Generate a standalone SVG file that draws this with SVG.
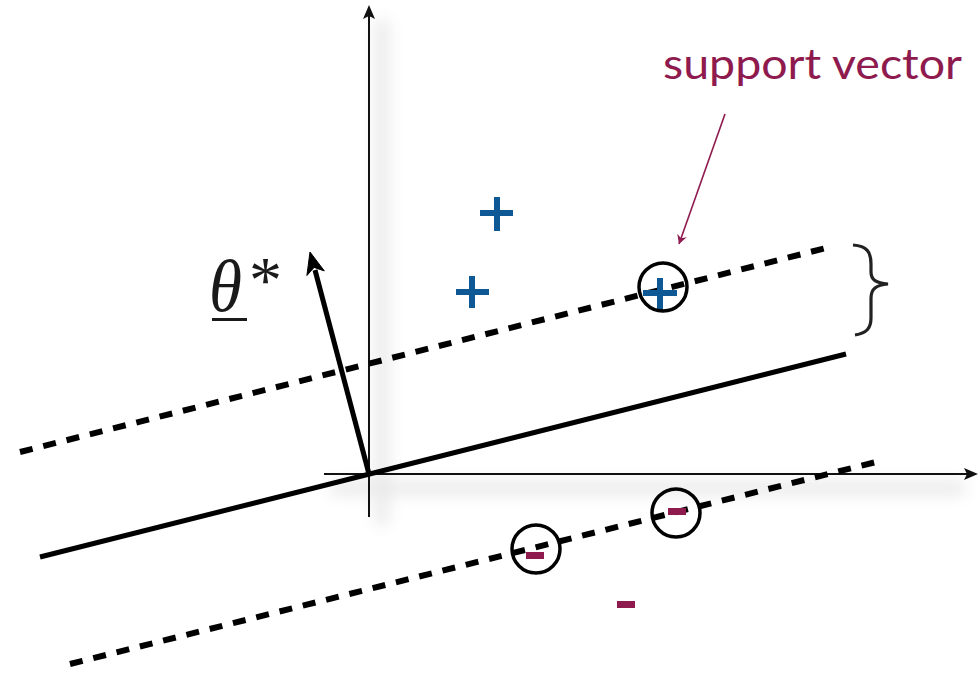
<svg xmlns="http://www.w3.org/2000/svg" width="978" height="673" viewBox="0 0 978 673">
<style>
.axis{stroke:#111;stroke-width:2;fill:none}
.dash{stroke:#000;stroke-width:6;stroke-dasharray:13 11;fill:none}
.solid{stroke:#000;stroke-width:5;fill:none}
.sv{stroke:#000;stroke-width:3.5;fill:none}
.plus{fill:#0F5896}
.minus{fill:#8E1A4E}
.lbl{font-family:"Lato","Open Sans","Liberation Sans",sans-serif;fill:#8E1A4E}
.math{font-family:"Liberation Serif","DejaVu Serif",serif;fill:#1a1a1a}
</style>
<defs>
<filter id="blur" x="-50%" y="-50%" width="200%" height="200%"><feGaussianBlur stdDeviation="8"/></filter>
<marker id="svArrow" markerWidth="12" markerHeight="12" refX="10" refY="6" orient="auto" markerUnits="userSpaceOnUse">
<path d="M1,1 L10,6 L1,11 L4,6 Z" fill="#8E1A4E"/>
</marker>
</defs>
<rect width="978" height="673" fill="#fff"/>
<g id="shadow" opacity="0.14" filter="url(#blur)">
<line x1="382" y1="20" x2="382" y2="525" stroke="#555" stroke-width="12"/>
<line x1="330" y1="488" x2="965" y2="488" stroke="#555" stroke-width="12"/>
</g>
<g id="axes">
<line class="axis" x1="369" y1="14" x2="369" y2="517"/>
<path d="M369,5 L363,19 L369,16 L375,19 Z" fill="#111"/>
<line class="axis" x1="324" y1="474" x2="968" y2="474"/>
<path d="M978,474 L964,468 L967,474 L964,480 Z" fill="#111"/>
</g>
<g id="connectors">
<line class="dash" x1="20" y1="452" x2="826" y2="248"/>
<line class="solid" x1="40" y1="557" x2="846" y2="354"/>
<line class="dash" x1="70" y1="664" x2="876" y2="462"/>
<line x1="369" y1="474" x2="315" y2="270" stroke="#000" stroke-width="5"/>
<path d="M310,252 L324.3,270.9 L314.1,267.4 L306.9,275.5 Z" fill="#000" stroke="#000" stroke-width="1"/>
<line x1="725" y1="114" x2="679" y2="244" stroke="#8E1A4E" stroke-width="1.6" marker-end="url(#svArrow)"/>
</g>
<g id="theta">
<text class="math" x="209" y="311" font-size="74" font-style="italic" textLength="33" lengthAdjust="spacingAndGlyphs">θ</text>
<rect x="212" y="318" width="35" height="3" fill="#1a1a1a"/>
<text class="math" x="249" y="302" font-size="66">*</text>
</g>
<g id="label">
<text class="lbl" x="663" y="79" font-size="43" textLength="299" lengthAdjust="spacingAndGlyphs">support vector</text>
</g>
<g id="brace">
<path d="M853,245 C867,246 871,252 871,264 L871,272 C871,280 876,283 888,284 C876,285 871,289 871,298 L871,318 C871,328 867,333 855,335" fill="none" stroke="#222" stroke-width="3.2"/>
</g>
<g id="plus1"><rect class="plus" x="480" y="210" width="33" height="6"/><rect class="plus" x="494" y="197" width="6" height="34"/></g>
<g id="plus2"><rect class="plus" x="456" y="289" width="33" height="6"/><rect class="plus" x="469" y="276" width="6" height="32"/></g>
<g id="plus3"><rect class="plus" x="643" y="290" width="34" height="6"/><rect class="plus" x="657" y="278" width="6" height="32"/></g>
<circle id="sv1" class="sv" cx="663" cy="287" r="24"/>
<g id="minus1"><rect class="minus" x="526" y="552" width="18" height="7"/></g>
<circle id="sv2" class="sv" cx="536" cy="549" r="24"/>
<g id="minus2"><rect class="minus" x="668" y="508" width="18" height="7"/></g>
<circle id="sv3" class="sv" cx="676" cy="513" r="24"/>
<g id="minus3"><rect class="minus" x="617" y="601" width="18" height="7"/></g>
</svg>
